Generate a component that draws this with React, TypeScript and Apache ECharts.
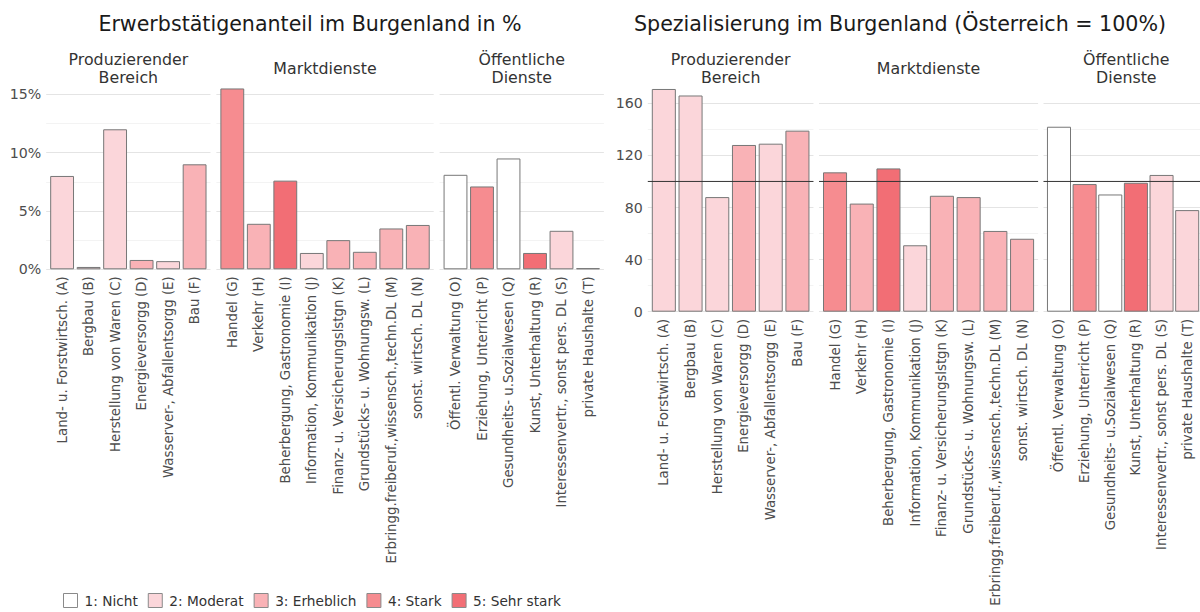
import React, { useEffect, useRef } from "react";
import * as echarts from "echarts";

// ---------- data ----------
const prodCats = [
  "Land- u. Forstwirtsch. (A)",
  "Bergbau (B)",
  "Herstellung von Waren (C)",
  "Energieversorgg (D)",
  "Wasserver-, Abfallentsorgg (E)",
  "Bau (F)",
];
const marktCats = [
  "Handel (G)",
  "Verkehr (H)",
  "Beherbergung, Gastronomie (I)",
  "Information, Kommunikation (J)",
  "Finanz- u. Versicherungslstgn (K)",
  "Grundstücks- u. Wohnungsw. (L)",
  "Erbringg.freiberuf.,wissensch.,techn.DL (M)",
  "sonst. wirtsch. DL (N)",
];
const oeffCats = [
  "Öffentl. Verwaltung (O)",
  "Erziehung, Unterricht (P)",
  "Gesundheits- u.Sozialwesen (Q)",
  "Kunst, Unterhaltung (R)",
  "Interessenvertr., sonst pers. DL (S)",
  "private Haushalte (T)",
];

const groupNames = ["Produzierender\nBereich", "Marktdienste", "Öffentliche\nDienste"];

// Erwerbstätigenanteil in %
const prodShare = [8.0, 0.2, 12.0, 0.8, 0.7, 9.0];
const marktShare = [15.5, 3.9, 7.6, 1.4, 2.5, 1.5, 3.5, 3.8];
const oeffShare = [8.1, 7.1, 9.5, 1.4, 3.3, 0.1];

// Spezialisierung (Österreich = 100)
const prodSpec = [171, 166, 88, 128, 129, 139];
const marktSpec = [107, 83, 110, 51, 89, 88, 62, 56];
const oeffSpec = [142, 98, 90, 99, 105, 78];

// Spezialisierungsstufe (1..5)
const prodLevel = [2, 2, 2, 3, 2, 3];
const marktLevel = [4, 3, 5, 2, 3, 3, 3, 3];
const oeffLevel = [1, 4, 1, 5, 2, 2];

const levelNames = ["1: Nicht", "2: Moderat", "3: Erheblich", "4: Stark", "5: Sehr stark"];
const levelColors = ["#ffffff", "#fbd6da", "#f9b2b6", "#f68c90", "#f26e75"];

const shareTicks = [0, 5, 10, 15];
const specTicks = [0, 40, 80, 120, 160];
const specReference = 100;

const leftTitle = "Erwerbstätigenanteil im Burgenland in %";
const rightTitle = "Spezialisierung im Burgenland (Österreich = 100%)";

// ---------- layout ----------
const FONT = "DejaVu Sans";
const charts = [
  {
    title: leftTitle,
    titleX: 310,
    unit: 26.5,
    starts: [46.2, 216.4, 439.6],
    bottom: 269.3,
    pxPer: 11.667,
    bgMax: 15,
    barMax: 16,
    step: 2.5,
    ticks: shareTicks,
    suffix: "%",
    values: [prodShare, marktShare, oeffShare],
    ref: null as number | null,
  },
  {
    title: rightTitle,
    titleX: 900,
    unit: 26.72,
    starts: [647.8, 819, 1043.5],
    bottom: 311.7,
    pxPer: 1.3025,
    bgMax: 160,
    barMax: 175,
    step: 20,
    ticks: specTicks,
    suffix: "",
    values: [prodSpec, marktSpec, oeffSpec],
    ref: specReference as number | null,
  },
];
const groupCats = [prodCats, marktCats, oeffCats];
const groupLevels = [prodLevel, marktLevel, oeffLevel];

function buildOption() {
  const grid: any[] = [];
  const xAxis: any[] = [];
  const yAxis: any[] = [];
  const series: any[] = [];
  const graphic: any[] = [];

  charts.forEach((c) => {
    graphic.push({
      type: "text",
      x: c.titleX,
      y: 24,
      style: {
        text: c.title,
        textAlign: "center",
        textVerticalAlign: "middle",
        fontFamily: FONT,
        fontSize: 20.6,
        fill: "#1a1a1a",
      },
    });
    c.starts.forEach((start, p) => {
      const cats = groupCats[p];
      const n = cats.length;
      const bgW = (n + 0.2) * c.unit;
      // background grid (gridlines + y labels + reference line)
      const bgIdx = grid.length;
      grid.push({
        left: start,
        top: c.bottom - c.bgMax * c.pxPer,
        width: bgW,
        height: c.bgMax * c.pxPer,
      });
      xAxis.push({ type: "value", gridIndex: bgIdx, min: 0, max: 1, show: false });
      yAxis.push({
        type: "value",
        gridIndex: bgIdx,
        min: 0,
        max: c.bgMax,
        interval: c.step,
        axisLine: { show: false },
        axisTick: { show: false },
        splitLine: { show: true, lineStyle: { color: ["#e4e4e4", "#f3f3f3"], width: 1 } },
        axisLabel: {
          show: p === 0,
          margin: 5,
          fontFamily: FONT,
          fontSize: 14.2,
          color: "#4d4d4d",
          formatter: (v: number) => (c.ticks.includes(v) ? `${v}${c.suffix}` : ""),
        },
      });
      if (c.ref !== null) {
        series.push({
          type: "line",
          xAxisIndex: bgIdx,
          yAxisIndex: bgIdx,
          data: [
            [0, c.ref],
            [1, c.ref],
          ],
          symbol: "none",
          silent: true,
          z: 5,
          lineStyle: { color: "#333333", width: 1 },
        });
      }
      // bar grid
      const barIdx = grid.length;
      grid.push({
        left: start + 0.1 * c.unit,
        top: c.bottom - c.barMax * c.pxPer,
        width: n * c.unit,
        height: c.barMax * c.pxPer,
      });
      xAxis.push({
        type: "category",
        gridIndex: barIdx,
        data: cats,
        axisLine: { show: false },
        axisTick: { show: false },
        axisLabel: {
          interval: 0,
          rotate: 90,
          margin: 7,
          fontFamily: FONT,
          fontSize: 13.3,
          color: "#4d4d4d",
        },
      });
      yAxis.push({ type: "value", gridIndex: barIdx, min: 0, max: c.barMax, show: false });
      series.push({
        type: "bar",
        xAxisIndex: barIdx,
        yAxisIndex: barIdx,
        barWidth: 0.9 * c.unit,
        itemStyle: { borderColor: "#777777", borderWidth: 1 },
        data: c.values[p].map((v, i) => ({
          value: v,
          itemStyle: { color: levelColors[groupLevels[p][i] - 1] },
        })),
      });
      // strip label
      graphic.push({
        type: "text",
        x: start + bgW / 2,
        y: 68.3,
        style: {
          text: groupNames[p],
          textAlign: "center",
          textVerticalAlign: "middle",
          fontFamily: FONT,
          fontSize: 15.8,
          lineHeight: 18,
          fill: "#333333",
        },
      });
    });
  });

  // hidden grid for legend entries
  const hidIdx = grid.length;
  grid.push({ left: -200, top: -200, width: 10, height: 10 });
  xAxis.push({ type: "category", gridIndex: hidIdx, data: ["x"], show: false });
  yAxis.push({ type: "value", gridIndex: hidIdx, show: false });
  levelNames.forEach((name, k) => {
    series.push({
      type: "bar",
      name,
      xAxisIndex: hidIdx,
      yAxisIndex: hidIdx,
      data: [],
      itemStyle: { color: levelColors[k], borderColor: "#8a8a8a", borderWidth: 1 },
    });
  });

  return {
    animation: false,
    grid,
    xAxis,
    yAxis,
    series,
    graphic,
    legend: {
      data: levelNames,
      left: 63,
      top: 593,
      padding: 0,
      itemWidth: 14,
      itemHeight: 14,
      itemGap: 10,
      icon: "rect",
      selectedMode: false,
      itemStyle: { borderColor: "#8a8a8a", borderWidth: 1 },
      textStyle: { fontFamily: FONT, fontSize: 13.7, color: "#333333", padding: [0, 0, 0, 2] },
    },
  };
}

export default function App() {
  const ref = useRef<HTMLDivElement>(null);
  useEffect(() => {
    if (!ref.current) return;
    const chart = echarts.init(ref.current, undefined, { renderer: "svg" });
    chart.setOption(buildOption());
    return () => chart.dispose();
  }, []);
  return (
    <div
      style={{
        position: "absolute",
        left: 0,
        top: 0,
        width: 1200,
        height: 612,
        overflow: "hidden",
        background: "#ffffff",
      }}
    >
      <div ref={ref} style={{ width: 1200, height: 612 }} />
    </div>
  );
}
